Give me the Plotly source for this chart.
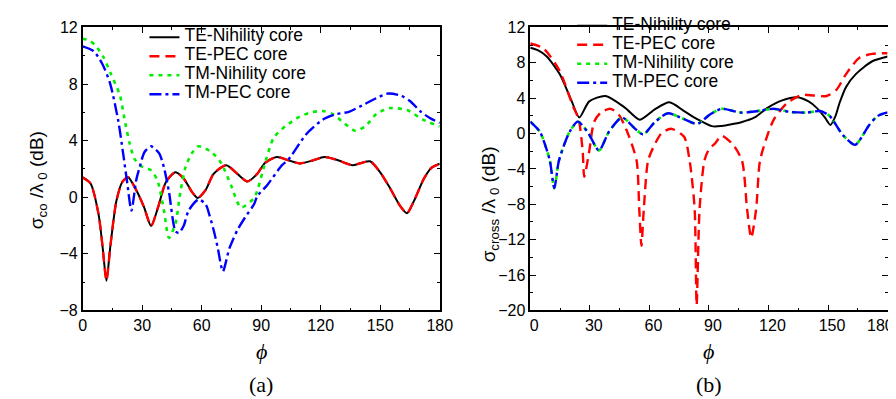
import plotly.graph_objects as go

# ---------------- data (a): co-polarised ----------------
phi_a_te = [0, 4, 8, 10, 12, 14, 17, 20, 22.9, 27, 31, 34.5, 38, 42, 46.8, 51, 55, 58, 62, 66,
            72.4, 78, 83.1, 88, 92, 97.9, 104, 109.5, 116, 121.8, 128, 135.8, 140, 144.9, 150,
            155, 160, 163.5, 167, 172, 176, 180]
te_nih_a = [1.4, 0.97, -1.18, -3.43, -5.9, -3.43, -0.27, 1.08, 1.42, 0.51, -0.72, -2.03, -0.72,
            1.08, 1.76, 1.31, 0.4, -0.05, 0.51, 1.65, 2.27, 1.65, 1.12, 1.65, 2.44, 2.84, 2.6,
            2.39, 2.6, 2.84, 2.65, 2.27, 2.4, 2.54, 1.76, 0.63, -0.61, -1.13, -0.27, 1.31, 2.1, 2.37]
te_pec_a = list(te_nih_a)

phi_a_tmn = [0, 3, 6, 10.5, 14, 18.8, 21, 23.7, 26.2, 29.5, 34.5, 37.7, 41, 43.5, 46.8, 49.3,
             51.8, 55, 58.4, 64.9, 69.9, 74.8, 79.8, 86.4, 92.1, 96.3, 102, 109.4, 115.2, 121,
             125.9, 131.7, 137.5, 142.4, 148.2, 154.8, 163.8, 171.3, 180]
tm_nih_a = [11.2, 11.1, 10.8, 9.9, 8.8, 7.2, 5.6, 3.8, 2.7, 2.2, 1.9, 1.2, -0.95, -2.87, -1.85,
            0.4, 2.1, 3.1, 3.6, 3.2, 2.4, 0.85, -0.72, -0.05, 2.5, 4.2, 5.0, 5.7, 6.0, 6.1, 5.9,
            5.25, 4.7, 5.0, 5.9, 6.3, 6.15, 5.5, 5.0]

phi_a_tmp = [0, 5.6, 10, 13.8, 18, 20.4, 22.5, 24.6, 27, 28.7, 31.2, 34.5, 38.6, 41, 43.5, 46.8,
             48.5, 51, 53.4, 58.4, 62, 64, 66, 68, 70.7, 74, 78.1, 82, 86.4, 88, 93, 100.4,
             103.7, 112.8, 121, 127.6, 134.2, 142.4, 148, 154, 160.6, 165, 170.5, 175, 180]
tm_pec_a = [10.67, 10.33, 9.4, 8.07, 5.37, 3.11, 1.0, -0.95, 1.2, 2.1, 3.2, 3.6, 3.1, 2.1, 0.4,
            -2.4, -2.53, -2.0, -0.95, -0.16, -0.5, -1.3, -2.3, -3.5, -5.24, -3.6, -2.3, -1.4,
            -0.5, 0.07, 0.85, 2.25, 2.66, 4.47, 5.48, 5.86, 6.04, 6.6, 7.0, 7.33, 7.17, 6.8,
            6.04, 5.6, 5.25]

# ---------------- data (b): cross-polarised ----------------
phi_b_ten = [0, 4, 8.3, 14.8, 20.6, 24.7, 29.7, 37.9, 47.8, 55.2, 62.7, 70.1, 77.5, 84.1, 91.5,
             96, 100, 106.3, 113, 119.5, 126.9, 134.4, 140.2, 144.3, 148.4, 151.2, 153.8, 155.8,
             159.1, 164, 172.3, 180]
te_nih_b = [9.7, 9.4, 8.72, 6.73, 3.82, 1.82, 3.64, 4.25, 2.91, 1.57, 2.73, 3.53, 2.55, 1.64,
            0.84, 0.85, 1.0, 1.28, 1.82, 2.91, 3.75, 4.11, 3.64, 2.91, 1.82, 0.98, 2.0, 3.46,
            5.28, 6.73, 8.18, 8.72]

phi_b_tep = [0, 6.6, 14.8, 21.5, 24.4, 26.4, 27.2, 29.7, 32.1, 35.5, 40.4, 44.5, 49.5, 53.6,
             54.9, 56, 57.2, 59.3, 61.8, 66, 70.9, 77.5, 80.3, 82.8, 83.8, 85.3, 87.7, 89.9,
             93.2, 96.4, 102.2, 106.7, 109.2, 111.3, 113.8, 115.7, 119.5, 122.8, 129.4, 136.8,
             143, 149.2, 154.1, 159.1, 165.7, 172.3, 180]
te_pec_b = [10.19, 9.64, 7.09, 3.1, 1.6, -2.0, -4.9, -2.0, 1.28, 2.37, 2.8, 2.18, -0.17, -3.1,
            -8.5, -12.7, -8.5, -3.1, -1.64, 0.0, 0.55, -0.36, -3.1, -8.5, -19.4, -8.5, -3.1,
            -1.82, -1.09, -0.25, -1.27, -3.1, -8.5, -11.8, -8.5, -3.1, -0.17, 1.64, 3.46, 4.36,
            4.3, 4.25, 4.91, 6.73, 8.55, 9.02, 9.09]

phi_b_tm = [0, 4.9, 7.5, 9.9, 12.1, 14.3, 17, 19.8, 23.9, 28.9, 34.6, 39.6, 46.2, 52.8, 56.9,
            62.7, 69.2, 77.5, 84.1, 90.7, 96.4, 106.3, 114.6, 122.8, 131, 139.3, 145.9, 150.8,
            157.5, 163.7, 170.6, 175, 180]
tm_nih_b = [1.35, 0.19, -1.3, -3.09, -6.17, -3.2, -1.3, 0.19, 1.35, 0.19, -1.92, 0.19, 1.82,
            0.55, -0.1, 1.28, 2.29, 1.64, 1.09, 2.18, 2.8, 2.37, 2.55, 2.8, 2.44, 2.37, 2.55,
            2.0, -0.17, -1.27, 0.92, 2.0, 2.4]
tm_pec_b = list(tm_nih_b)

names = ["TE-Nihility core", "TE-PEC core", "TM-Nihility core", "TM-PEC core"]
x_ticks = [0, 30, 60, 90, 120, 150, 180]

# ---------------- styling ----------------
styles = [
    dict(color="black", width=2, dash="solid"),
    dict(color="#ff0000", width=2.4, dash="10px,6px"),
    dict(color="#00ee00", width=2.6, dash="4px,5px"),
    dict(color="#0000ff", width=2.4, dash="12px,4px,3px,4px"),
]

fig = go.Figure()

def add(xs, ys, i, xa, ya, leg):
    fig.add_trace(go.Scatter(
        x=xs, y=ys, mode="lines",
        name=f"<span style='font-size:17.5px'>{names[i]}</span>",
        line=dict(shape="spline", smoothing=0.7, **styles[i]),
        xaxis=xa, yaxis=ya, legend=leg))

add(phi_a_te, te_nih_a, 0, "x", "y", "legend")
add(phi_a_te, te_pec_a, 1, "x", "y", "legend")
add(phi_a_tmn, tm_nih_a, 2, "x", "y", "legend")
add(phi_a_tmp, tm_pec_a, 3, "x", "y", "legend")

add(phi_b_ten, te_nih_b, 0, "x2", "y2", "legend2")
add(phi_b_tep, te_pec_b, 1, "x2", "y2", "legend2")
add(phi_b_tm, tm_nih_b, 2, "x2", "y2", "legend2")
add(phi_b_tm, tm_pec_b, 3, "x2", "y2", "legend2")

W, H = 896, 399
ydom = [1 - 307.5 / H, 1 - 12 / H]
tickfont = dict(family="Liberation Sans, Arial", size=16, color="black")

def xax(dom, anchor, vals, shift):
    return dict(domain=dom, anchor=anchor, range=[0, 180], tickvals=vals,
                ticklabelshift=shift,
                showline=True, linecolor="black", linewidth=1.5, mirror="ticks",
                ticks="inside", ticklen=6, tickwidth=1.2, tickcolor="black",
                minor=dict(ticks="inside", ticklen=3, dtick=15, tickcolor="black", tickwidth=1.2),
                showgrid=False, zeroline=False, tickfont=tickfont)

def yax(rng, dt, anchor):
    return dict(domain=ydom, anchor=anchor, range=rng, dtick=dt, tick0=0,
                showline=True, linecolor="black", linewidth=1.5, mirror="ticks",
                ticks="inside", ticklen=6, tickwidth=1.2, tickcolor="black",
                minor=dict(ticks="inside", ticklen=3, dtick=dt / 2, tickcolor="black", tickwidth=1.2),
                showgrid=False, zeroline=False, tickfont=tickfont)

leg_common = dict(xanchor="left", yanchor="top", bgcolor="rgba(0,0,0,0)",
                  font=dict(family="Liberation Sans, Arial", size=10.5, color="black"),
                  itemwidth=30, tracegroupgap=0, borderwidth=0)

fig.update_layout(
    width=W, height=H, margin=dict(l=0, r=0, t=0, b=0),
    paper_bgcolor="white", plot_bgcolor="white", showlegend=True,
    xaxis=xax([72 / W, 436 / W], "y", x_ticks, 0),
    yaxis=yax([-8, 12], 4, "x"),
    xaxis2=xax([528.3 / W, 892.5 / W], "y2", x_ticks[:-1], 4),
    yaxis2=yax([-20, 12], 4, "x2"),
    legend=dict(x=135 / W, y=1 - 7 / H, **leg_common),
    legend2=dict(x=571 / W, y=1 + 5 / H, **leg_common),
)

serif = "Liberation Serif, Times New Roman"
sans = "Liberation Sans, Arial"
ann = [
    dict(x=26 / W, y=1 - 172 / H, text="σ<sub>co</sub> /λ<sub> 0</sub> (dB)", textangle=-90,
         font=dict(family=sans, size=19, color="black")),
    dict(x=487 / W, y=1 - 197 / H, text="σ<sub>cross</sub> /λ<sub> 0</sub> (dB)", textangle=-90,
         font=dict(family=sans, size=19, color="black")),
    dict(x=254 / W, y=1 - 350 / H, text="<i>ϕ</i>", font=dict(family=serif, size=22, color="black")),
    dict(x=710 / W, y=1 - 350 / H, text="<i>ϕ</i>", font=dict(family=serif, size=22, color="black")),
    dict(x=254 / W, y=1 - 385 / H, text="(a)", font=dict(family=serif, size=22, color="black")),
    dict(x=710 / W, y=1 - 385 / H, text="(b)", font=dict(family=serif, size=22, color="black")),
]
for a in ann:
    fig.add_annotation(xref="paper", yref="paper", showarrow=False,
                       xanchor="center", yanchor="middle", **a)

# last tick label of panel (b), squeezed against the frame as in the original
fig.add_annotation(xref="x2", yref="paper", x=x_ticks[-1], y=1 - 323 / H, text=str(x_ticks[-1]),
                   showarrow=False, xanchor="right", yanchor="middle", xshift=8,
                   font=tickfont)

fig.write_html("out.html")
